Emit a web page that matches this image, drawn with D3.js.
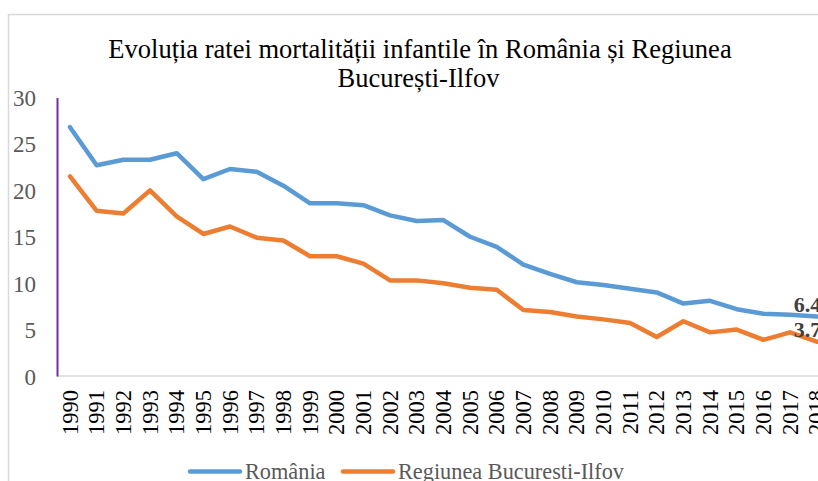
<!DOCTYPE html>
<html><head><meta charset="utf-8">
<script src="https://cdn.jsdelivr.net/npm/d3@7"></script>
<style>html,body{margin:0;padding:0;background:#fff;overflow:hidden}</style>
</head><body>
<script>
const years = d3.range(1990, 2019).map(String);
const romania = [26.8,22.7,23.3,23.3,24.0,21.2,22.3,22.0,20.5,18.6,18.6,18.4,17.3,16.7,16.8,15.0,13.9,12.0,11.0,10.1,9.8,9.4,9.0,7.8,8.1,7.2,6.7,6.6,6.4];
const bucuresti = [21.5,17.8,17.5,20.0,17.2,15.3,16.1,14.9,14.6,12.9,12.9,12.1,10.3,10.3,10.0,9.5,9.3,7.1,6.9,6.4,6.1,5.7,4.2,5.9,4.7,5.0,3.9,4.7,3.7];
const yTicks = [0,5,10,15,20,25,30];
const seriesNames = ["România","Regiunea Bucuresti-Ilfov"];
const colors = ["#5B9BD5","#ED7D31"];
const titleLines = ["Evoluția ratei mortalității infantile în România și Regiunea","București-Ilfov"];

const W = 818, H = 481;
const svg = d3.select("body").append("svg").attr("width", W).attr("height", H);
const serif = "'Liberation Serif','Times New Roman',serif";

// chart border
svg.append("rect").attr("x",8.5).attr("y",14.5).attr("width",900).attr("height",600)
  .attr("fill","none").attr("stroke","#d9d9d9").attr("stroke-width",1.5);

const x = d3.scalePoint().domain(years).range([70, 70 + 28*26.67]);
const y = d3.scaleLinear().domain([0,30]).range([376, 97.5]);

// title
svg.append("text").attr("font-family",serif).attr("font-size",26.5).attr("fill","#000")
  .attr("text-anchor","middle")
  .selectAll("tspan").data(titleLines).join("tspan")
  .attr("x",(d,i)=>i===0?420:418.5).attr("y",(d,i)=>58+i*29).text(d=>d);

// x axis baseline
svg.append("line").attr("x1",57).attr("x2",W+20).attr("y1",y(0)).attr("y2",y(0))
  .attr("stroke","#d9d9d9").attr("stroke-width",1.5);

// y axis
const yAxis = d3.axisLeft(y).tickValues(yTicks).tickSize(0).tickPadding(21);
const yg = svg.append("g").attr("transform","translate(57,0)").call(yAxis);
yg.select(".domain").attr("stroke","#7030A0").attr("stroke-width",2);
yg.selectAll("text").attr("font-family",serif).attr("font-size",23).attr("fill","#595959").attr("dy","0.35em");

// x axis labels
const xAxis = d3.axisBottom(x).tickSize(0).tickPadding(0);
const xg = svg.append("g").attr("transform",`translate(0,${y(0)})`).call(xAxis);
xg.select(".domain").remove();
xg.selectAll("text").attr("font-family",serif).attr("font-size",22.5).attr("fill","#000")
  .attr("text-anchor","end").attr("dy",null)
  .attr("transform","translate(0,14) rotate(-90)").attr("x",0).attr("y",7);

// lines
const line = d3.line().x((d,i)=>x(years[i])).y(d=>y(d));
[romania,bucuresti].forEach((s,k)=>{
  svg.append("path").datum(s).attr("d",line).attr("fill","none")
    .attr("stroke",colors[k]).attr("stroke-width",4.5).attr("stroke-linejoin","round").attr("stroke-linecap","round");
});

// data labels for last point
[romania,bucuresti].forEach((s,k)=>{
  const last = s.length-1;
  svg.append("text").attr("x",x(years[last])-23).attr("y",y(s[last])-5)
    .attr("font-family",serif).attr("font-size",22).attr("font-weight","bold").attr("fill","#404040")
    .text(s[last].toFixed(1));
});

// legend
const legX = [190, 343];
seriesNames.forEach((n,k)=>{
  svg.append("line").attr("x1",legX[k]).attr("x2",legX[k]+50).attr("y1",471.5).attr("y2",471.5)
    .attr("stroke",colors[k]).attr("stroke-width",4.5).attr("stroke-linecap","round");
  svg.append("text").attr("x",legX[k]+55).attr("y",479).attr("font-family",serif).attr("font-size",22.3)
    .attr("fill","#595959").text(n);
});
</script>
</body></html>
